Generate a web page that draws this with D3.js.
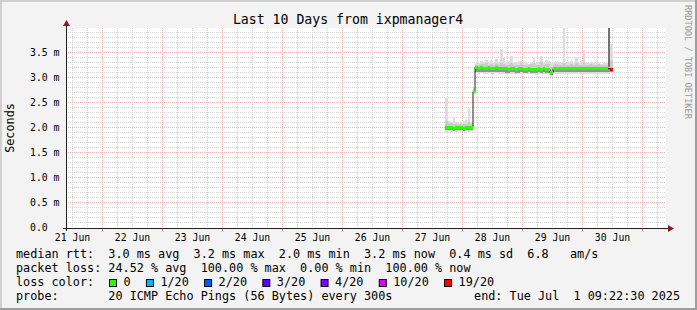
<!DOCTYPE html>
<html>
<head>
<meta charset="utf-8">
<script src="https://cdnjs.cloudflare.com/ajax/libs/d3/7.8.5/d3.min.js"></script>
<style>
  body { margin: 0; background: #f3f3f3; }
  svg text { font-family: "DejaVu Sans Mono", monospace; white-space: pre; }
</style>
</head>
<body>
<div id="graph"></div>
<script>
// time window of the graph (UTC)
var startTime = Date.UTC(2025, 5, 21, 9, 22, 30);
var endTime = Date.UTC(2025, 6, 1, 9, 22, 30);
// hourly RRA bins, first bin starts here
var firstHour = Date.UTC(2025, 5, 27, 17);

// median rtt per hour (ms)
var median = [2.00, 2.00, 2.01, 1.99, 2.00, 2.01, 2.00, 1.99, 2.00, 2.01, 2.00,
  2.73,
  3.20, 3.19, 3.20, 3.19, 3.19, 3.20, 3.18, 3.19, 3.20, 3.19, 3.19,
  3.18, 3.18, 3.17, 3.18, 3.18, 3.17, 3.18, 3.18, 3.17, 3.17, 3.18, 3.17, 3.17, 3.16, 3.18, 3.17, 3.18, 3.17, 3.16,
  3.11,
  3.18, 3.19, 3.18, 3.18, 3.19, 3.18, 3.19, 3.18, 3.19, 3.18, 3.18, 3.19, 3.18, 3.18, 3.19, 3.18, 3.18, 3.19, 3.18, 3.18, 3.18, 3.18, 3.18, 3.17];

// lost pings out of 20 (null = no colour band drawn)
var loss = [0, 0, 0, 0, 0, 0, 0, 0, 0, 0, 0,
  0,
  0, 0, 0, 0, 0, 0, 0, 0, 0, 0, 0,
  0, 0, 0, 0, 0, 0, 0, 0, 0, 0, 0, 0, 0, 0, 0, 0, 0, 0, 0,
  0,
  0, 0, 0, 0, 0, 0, 0, 0, 0, 0, 0, 0, 0, 0, 0, 0, 0, 0, 0, 0, 0, 0, null, 19];

// smoke: lowest ping, low edge of dense part, top of mid band, highest ping
var pMin = [1.92, 1.93, 1.92, 1.93, 1.92, 1.93, 1.92, 1.92, 1.93, 1.92, 1.93,
  2.67,
  3.09, 3.08, 3.09, 3.08, 3.08, 3.09, 3.08, 3.08, 3.09, 3.08, 3.08,
  3.07, 3.08, 3.07, 3.07, 3.08, 3.07, 3.08, 3.08, 3.07, 3.07, 3.08, 3.07, 3.07, 3.06, 3.07, 3.07, 3.08, 3.07, 3.06,
  3.02,
  3.08, 3.08, 3.07, 3.08, 3.08, 3.08, 3.08, 3.07, 3.08, 3.08, 3.08, 3.08, 3.08, 3.08, 3.08, 3.07, 3.08, 3.08, 3.08, 3.08, 3.08, 3.08, 3.08, 3.10];
var pLo = [1.95, 1.95, 1.96, 1.94, 1.95, 1.96, 1.95, 1.94, 1.95, 1.96, 1.95,
  2.70,
  3.12, 3.11, 3.12, 3.11, 3.11, 3.12, 3.11, 3.11, 3.12, 3.11, 3.11,
  3.11, 3.10, 3.10, 3.11, 3.11, 3.10, 3.10, 3.11, 3.10, 3.10, 3.11, 3.10, 3.10, 3.09, 3.11, 3.10, 3.11, 3.10, 3.09,
  3.06,
  3.11, 3.12, 3.11, 3.11, 3.12, 3.11, 3.12, 3.11, 3.12, 3.11, 3.11, 3.12, 3.11, 3.11, 3.12, 3.11, 3.11, 3.12, 3.11, 3.11, 3.11, 3.11, 3.11, 3.12];
var pHi = [2.13, 2.10, 2.09, 2.08, 2.06, 2.06, 2.07, 2.06, 2.08, 2.12, 2.07,
  2.78,
  3.25, 3.26, 3.28, 3.27, 3.30, 3.26, 3.28, 3.25, 3.27, 3.26, 3.30,
  3.28, 3.25, 3.26, 3.29, 3.25, 3.26, 3.25, 3.30, 3.26, 3.25, 3.26, 3.27, 3.30, 3.26, 3.25, 3.32, 3.25, 3.28, 3.27,
  3.22,
  3.26, 3.27, 3.25, 3.26, 3.30, 3.26, 3.25, 3.27, 3.25, 3.30, 3.26, 3.25, 3.32, 3.26, 3.25, 3.27, 3.25, 3.26, 3.27, 3.25, 3.26, 3.25, 3.26, 3.34];
var pMax = [2.59, 2.13, 2.12, 2.20, 2.12, 2.10, 2.11, 2.14, 2.16, 2.40, 2.12,
  2.82,
  3.29, 3.30, 3.33, 3.32, 3.36, 3.30, 3.36, 3.30, 3.37, 3.32, 3.57,
  3.39, 3.30, 3.33, 3.43, 3.30, 3.31, 3.33, 3.34, 3.29, 3.30, 3.28, 3.31, 3.39, 3.30, 3.32, 3.43, 3.30, 3.36, 3.33,
  3.29,
  3.30, 3.33, 3.31, 3.30, 4.00, 3.30, 3.30, 3.33, 3.29, 3.39, 3.30, 3.33, 3.55, 3.30, 3.29, 3.32, 3.29, 3.33, 3.30, 3.28, 3.31, 3.30, 4.00, 3.66];

// the dense burst just before the outage
var burstHours = [Date.UTC(2025, 5, 30, 10)];
var burstLo = [3.22];
var burstHi = [4.00];

// legend
var lossLevels = ["0", "1/20", "2/20", "3/20", "4/20", "10/20", "19/20"];
var lossSteps = [0, 1, 2, 3, 4, 10, 19];
var lossColors = ["#26ff00", "#00b8ff", "#0059ff", "#5e00ff", "#7e00ff", "#dd00ff", "#ff0000"];
var rttValues = ["3.0", "3.2", "2.0", "3.2", "0.4"];
var rttNames = ["avg", "max", "min", "now", "sd"];
var amsValue = "6.8";
var lossValues = ["24.52", "100.00", "0.00", "100.00"];
var lossNames = ["avg", "max", "min", "now"];
var probeText = "20 ICMP Echo Pings (56 Bytes) every 300s";
var titleText = "Last 10 Days from ixpmanager4";

var W = 697, H = 310;
var plotLeft = 66, plotTop = 28, pw = 600, ph = 200;

var x = d3.scaleUtc().domain([startTime, endTime]).range([plotLeft, plotLeft + pw]);
var y = d3.scaleLinear().domain([0, 4]).range([plotTop + ph - 0.5, plotTop - 0.5]);

var svg = d3.select("#graph").append("svg")
  .attr("width", W)
  .attr("height", H)
  .style("display", "block");

// background + 3d frame
svg.append("rect").attr("width", W).attr("height", H).attr("fill", "#f3f3f3");
svg.append("path").attr("d", "M0,0H" + W + "V2H2V" + H + "H0Z").attr("fill", "#cfcfcf");
svg.append("path").attr("d", "M" + W + ",0V" + H + "H0V" + (H - 2) + "H" + (W - 2) + "V0Z").attr("fill", "#9e9e9e");

// canvas
svg.append("rect").attr("x", plotLeft).attr("y", plotTop).attr("width", pw).attr("height", ph).attr("fill", "#ffffff");

svg.append("clipPath").attr("id", "plot")
  .append("rect").attr("x", plotLeft).attr("y", plotTop).attr("width", pw).attr("height", ph);

var grid = svg.append("g");
var snap = function (v) { return Math.floor(v) + 0.5; };
var gridColor = "#d4d4d4", mgridColor = "#f2b0b0";

// vertical grid: 6 hour minor, day major
var days = d3.utcDay.range(startTime, endTime);
var sixHours = d3.utcHour.every(6).range(startTime, endTime).filter(function (d) { return d.getUTCHours() != 0; });

grid.selectAll("line.vmin").data(sixHours).enter().append("line")
  .attr("x1", function (d) { return snap(x(d)); })
  .attr("x2", function (d) { return snap(x(d)); })
  .attr("y1", plotTop).attr("y2", plotTop + ph)
  .attr("stroke", gridColor).attr("stroke-dasharray", "1,1");

// horizontal grid: 0.1 ms minor, 0.5 ms major
var minorY = d3.range(1, 40).filter(function (k) { return k % 5 != 0; }).map(function (k) { return k / 10; });
var majorY = [0.5, 1.0, 1.5, 2.0, 2.5, 3.0, 3.5];

grid.selectAll("line.hmin").data(minorY).enter().append("line")
  .attr("x1", plotLeft).attr("x2", plotLeft + pw)
  .attr("y1", function (d) { return snap(y(d)); })
  .attr("y2", function (d) { return snap(y(d)); })
  .attr("stroke", gridColor).attr("stroke-dasharray", "1,1");

grid.selectAll("line.vmaj").data(days).enter().append("line")
  .attr("x1", function (d) { return snap(x(d)); })
  .attr("x2", function (d) { return snap(x(d)); })
  .attr("y1", plotTop).attr("y2", plotTop + ph)
  .attr("stroke", mgridColor).attr("stroke-dasharray", "1,1");

grid.selectAll("line.hmaj").data(majorY).enter().append("line")
  .attr("x1", plotLeft).attr("x2", plotLeft + pw)
  .attr("y1", function (d) { return snap(y(d)); })
  .attr("y2", function (d) { return snap(y(d)); })
  .attr("stroke", mgridColor).attr("stroke-dasharray", "1,1");

// small ticks under the x axis at each day
grid.selectAll("line.tick").data(days).enter().append("line")
  .attr("x1", function (d) { return snap(x(d)); })
  .attr("x2", function (d) { return snap(x(d)); })
  .attr("y1", plotTop + ph).attr("y2", plotTop + ph + 3)
  .attr("stroke", "#a0a0a0");

// ---- data ----
var hour = 3600 * 1000;
var bins = median.map(function (m, i) {
  return {
    t: firstHour + i * hour,
    median: m, loss: loss[i],
    min: pMin[i], lo: pLo[i], hi: pHi[i], max: pMax[i]
  };
});

var plot = svg.append("g").attr("clip-path", "url(#plot)");

function bar(g, list, lo, hi, color) {
  g.selectAll(null).data(list).enter().append("rect")
    .attr("x", function (d) { return Math.round(x(d.t)); })
    .attr("width", function (d) { return Math.round(x(d.t + hour)) - Math.round(x(d.t)); })
    .attr("y", function (d) { return Math.round(y(hi(d))); })
    .attr("height", function (d) { return Math.max(0, Math.round(y(lo(d))) - Math.round(y(hi(d)))); })
    .attr("fill", color)
    .attr("shape-rendering", "crispEdges");
}

bar(plot, bins, function (d) { return d.min; }, function (d) { return d.max; }, "#dddddd");
bar(plot, bins, function (d) { return d.lo; }, function (d) { return d.hi; }, "#cacaca");
bar(plot, bins, function (d) { return d.lo; }, function (d) { return d.median; }, "#919191");

var bursts = burstHours.map(function (t, i) { return { t: t, lo: burstLo[i], hi: burstHi[i] }; });
bar(plot, bursts, function (d) { return d.lo; }, function (d) { return d.hi; }, "#727272");

// black median line
var steps = bins.concat([{ t: bins[bins.length - 1].t + hour, median: bins[bins.length - 1].median }]);
var medLine = d3.line()
  .x(function (d) { return Math.round(x(d.t)); })
  .y(function (d) { return snap(y(d.median)); })
  .curve(d3.curveStepAfter);
plot.append("path").datum(steps)
  .attr("d", medLine)
  .attr("fill", "none")
  .attr("stroke", "#202020")
  .attr("stroke-width", 1);

// median coloured by loss
function lossColor(l) {
  for (var k = 0; k < lossSteps.length; k++) {
    if (l <= lossSteps[k]) return lossColors[k];
  }
  return lossColors[lossColors.length - 1];
}
plot.selectAll("rect.med").data(bins.filter(function (d) { return d.loss !== null; })).enter().append("rect")
  .attr("x", function (d) { return Math.round(x(d.t)); })
  .attr("width", function (d) { return Math.round(x(d.t + hour)) - Math.round(x(d.t)); })
  .attr("y", function (d) { return Math.floor(y(d.median)) - 1; })
  .attr("height", 3)
  .attr("fill", function (d) { return lossColor(d.loss); })
  .attr("shape-rendering", "crispEdges");

// ---- axes ----
var axisColor = "#1f1f1f", arrowColor = "#7f1f1f";
svg.append("line").attr("x1", plotLeft - 3).attr("x2", plotLeft + pw + 3)
  .attr("y1", plotTop + ph + 0.5).attr("y2", plotTop + ph + 0.5)
  .attr("stroke", axisColor);
svg.append("line").attr("x1", plotLeft + 0.5).attr("x2", plotLeft + 0.5)
  .attr("y1", plotTop + ph + 3).attr("y2", plotTop - 4)
  .attr("stroke", axisColor);
svg.append("path")
  .attr("d", "M" + (plotLeft + pw + 2) + "," + (plotTop + ph - 3) + "L" + (plotLeft + pw + 8) + "," + (plotTop + ph + 0.5) + "L" + (plotLeft + pw + 2) + "," + (plotTop + ph + 4) + "Z")
  .attr("fill", arrowColor);
svg.append("path")
  .attr("d", "M" + (plotLeft - 3) + "," + (plotTop - 2) + "L" + (plotLeft + 0.5) + "," + (plotTop - 8) + "L" + (plotLeft + 4) + "," + (plotTop - 2) + "Z")
  .attr("fill", arrowColor);

// x labels at noon of each day
var noons = d3.utcDay.range(d3.utcDay.floor(startTime), endTime)
  .map(function (d) { return d3.utcHour.offset(d, 12); })
  .filter(function (d) { return x(d) > plotLeft && x(d) < plotLeft + pw; });
svg.selectAll("text.xl").data(noons).enter().append("text")
  .attr("x", function (d) { return x(d); })
  .attr("y", 241)
  .attr("text-anchor", "middle")
  .style("font-size", "9.8px")
  .attr("fill", "#000")
  .text(d3.utcFormat("%d %b"));

// y labels
var yLabels = [0].concat(majorY);
svg.selectAll("text.yl").data(yLabels).enter().append("text")
  .attr("x", 30)
  .attr("y", function (d) { return snap(y(d)) + 3.5; })
  .style("font-size", "9.8px")
  .attr("fill", "#000")
  .text(function (d) { return d == 0 ? "0.0" : d.toFixed(1) + " m"; });

// titles
svg.append("text")
  .attr("x", 348).attr("y", 24)
  .attr("text-anchor", "middle")
  .style("font-size", "13.2px")
  .attr("fill", "#000")
  .text(titleText);

svg.append("text")
  .attr("transform", "translate(14,128) rotate(-90)")
  .attr("text-anchor", "middle")
  .style("font-size", "11.8px")
  .attr("fill", "#000")
  .text("Seconds");

svg.append("text")
  .attr("transform", "translate(685,5) rotate(90)")
  .style("font-size", "8.6px")
  .attr("fill", "#9a9a9a")
  .text("RRDTOOL / TOBI OETIKER");

// ---- legend ----
var legend = svg.append("g").style("font-size", "11.8px").attr("fill", "#000");
var lx = 16;
var row1 = "median rtt:  " + rttValues.map(function (v, i) { return v + " ms " + rttNames[i]; }).join("  ")
  + "  " + amsValue + "   am/s";
var row2 = "packet loss: " + lossValues.map(function (v, i) { return v + " % " + lossNames[i]; }).join("  ");
legend.append("text").attr("x", lx).attr("y", 258).text(row1);
legend.append("text").attr("x", lx).attr("y", 272).text(row2);
var lcLabel = legend.append("text").attr("x", lx).attr("y", 286).text("loss color:");
legend.append("text").attr("x", lx).attr("y", 300).text("probe:       " + probeText);
legend.append("text").attr("x", 680).attr("y", 300).attr("text-anchor", "end")
  .text("end: " + d3.utcFormat("%a %b %e %H:%M:%S %Y")(new Date(endTime)));

var cw = lcLabel.node().getComputedTextLength() / 11;
var bx = 109;
lossLevels.forEach(function (lab, i) {
  legend.append("rect")
    .attr("x", bx + 0.5).attr("y", 279.5)
    .attr("width", 7).attr("height", 7)
    .attr("fill", lossColors[i])
    .attr("stroke", "#000");
  legend.append("text").attr("x", bx + 14.5).attr("y", 286).text(lab);
  bx = bx + 14.5 + lab.length * cw + 15.3;
});
</script>
</body>
</html>
